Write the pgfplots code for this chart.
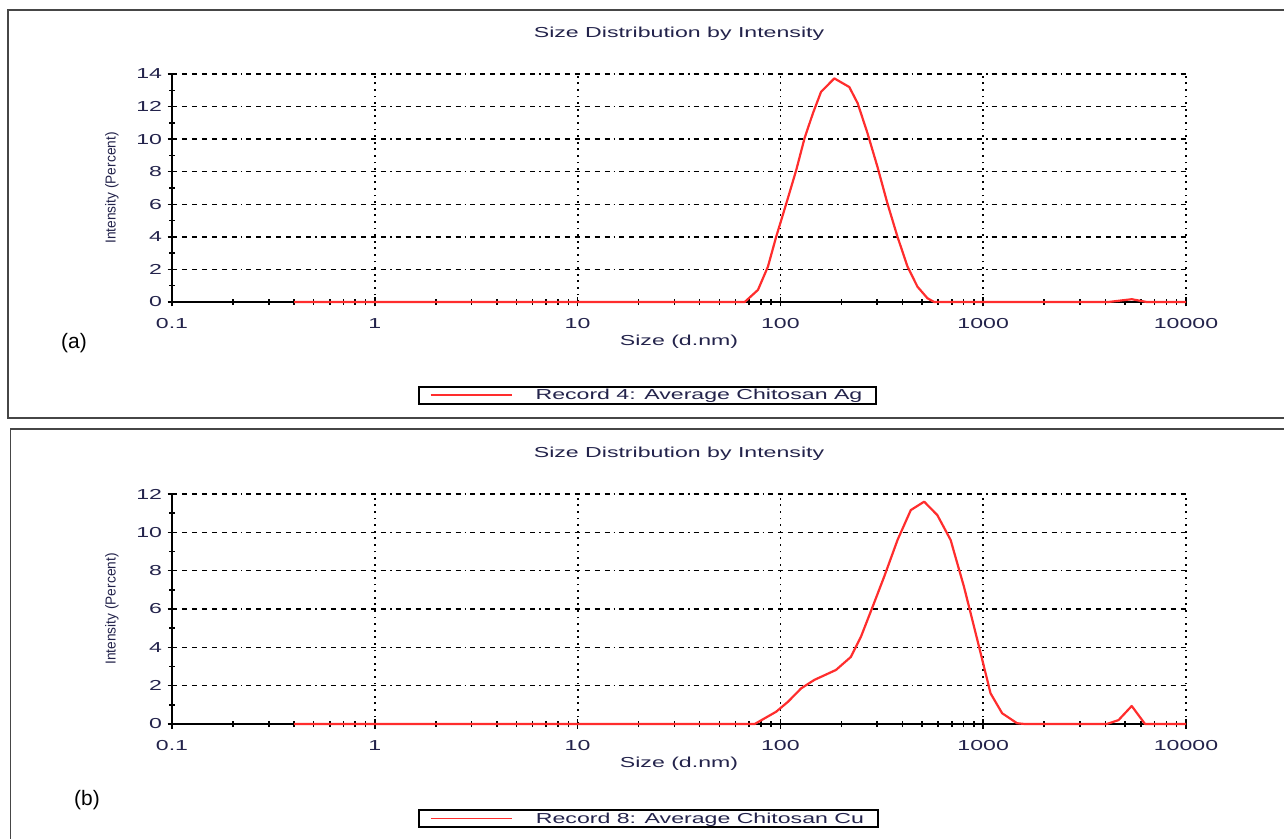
\documentclass[border=0pt]{standalone}
\usepackage{pgfplots}
\pgfplotsset{compat=1.18}
\usepackage{fontspec}
\setmainfont{Liberation Sans}
\usepackage{graphicx}
\definecolor{txt}{RGB}{35,35,75}
\definecolor{curve}{RGB}{255,45,45}
\definecolor{framec}{RGB}{70,70,70}
\newcommand{\sx}[1]{\scalebox{1.6}[1]{#1}}
\newcommand{\chfont}{\fontsize{14.5}{17}\selectfont}

\pgfplotstableread{
x y
0.4 0
50 0
66.7 0
77.5 0.74
86.8 2.17
95.3 4.0
107 6.06
119.7 8.1
131.5 10.05
144.6 11.58
158.6 12.9
184.5 13.73
218.6 13.2
240.5 12.2
269 10.35
301 8.3
337 6.06
378 4.0
423.6 2.17
474 0.94
531 0.23
573 0
4150 0
5400 0.17
6400 0
10000 0
}\agdata

\pgfplotstableread{
x y
0.4 0
74.7 0
95.3 0.64
109 1.16
126.6 1.86
147 2.3
188 2.82
222.6 3.5
249.5 4.55
285 6.12
325 7.69
378 9.6
439.5 11.16
511.5 11.6
594 10.9
691 9.6
804 7.16
935 4.4
1047 2.3
1087 1.6
1240 0.56
1469 0.04
1600 0
4065 0
4645 0.2
5400 0.94
6280 0
10000 0
}\cudata

\pgfplotsset{dls/.style={
  scale only axis, width=1014bp,
  xmin=0.1, xmax=10000, ymin=0,
  clip=false,
  axis lines=left,
  axis line style={-, line width=2bp, black},
  xtick={0.1,1,10,100,1000,10000},
  xticklabels={\sx{0.1},\sx{1},\sx{10},\sx{100},\sx{1000},\sx{10000}},
  minor xtick={0.2,0.3,0.4,0.5,0.6,0.7,0.8,0.9,2,3,4,5,6,7,8,9,20,30,40,50,60,70,80,90,200,300,400,500,600,700,800,900,2000,3000,4000,5000,6000,7000,8000,9000},
  tick align=center,
  major tick length=9bp, minor tick length=6bp,
  tick style={black, line width=1.5bp},
  grid=major,
  major x grid style={black, line width=1.8bp, dash pattern=on 1.8bp off 4.8bp},
  major y grid style={black, line width=1.3bp, dash pattern=on 5bp off 5bp on 5bp off 5bp on 5bp off 5bp on 5bp off 5bp on 5bp off 5bp on 5bp off 5bp on 5bp off 4bp on 1.5bp off 4bp},
  ticklabel style={font=\chfont, text=txt},
  xticklabel style={anchor=base, yshift=-22bp},
  yticklabel style={xshift=-2bp},
  title style={font=\chfont, text=txt, at={(axis description cs:0.5,1)}, anchor=base, yshift=31bp},
  xlabel style={font=\chfont, text=txt, at={(axis description cs:0.5,0)}, anchor=center, yshift=-40bp},
  ylabel style={font=\chfont, text=txt, at={(axis description cs:-0.0592,0.5)}, anchor=center},
  title={\sx{Size Distribution by Intensity}},
  xlabel={\sx{Size (d.nm)}},
  ylabel={\scalebox{0.95}[1]{Intensity (Percent)}},
  legend style={font=\chfont, text=txt, draw=black, line width=2bp, anchor=center,
    inner xsep=11bp, inner ysep=0.5bp, nodes={inner ysep=2bp, inner xsep=3bp}},
  legend cell align=left,
}}

\begin{document}
\begin{tikzpicture}
\useasboundingbox (0bp,0bp) rectangle (1284bp,839bp);
% panel frames
\draw[framec, line width=1.6bp] (1284bp,829bp) -- (8bp,829bp) -- (8bp,421bp) -- (1284bp,421bp);
\draw[framec, line width=1.6bp] (1284bp,410bp) -- (10.5bp,410bp) -- (10.5bp,0bp);

\begin{axis}[xmode=log, dls, at={(172bp,537bp)}, anchor=south west, height=228bp, ymax=14,
  ytick={0,2,...,14},
  yticklabels={\sx{0},\sx{2},\sx{4},\sx{6},\sx{8},\sx{10},\sx{12},\sx{14}},
  minor ytick={1,3,...,13},
  legend image code/.code={\draw[#1, line width=1.8bp] (0bp,0bp) -- (81bp,0bp);},
  legend style={at={(axis description cs:0.469,-0.408)}}]
\addplot[curve, line width=2.2bp, line join=round] table[x=x,y=y] {\agdata};
\addlegendentry{\hspace{20bp}\sx{Record 4: Average Chitosan Ag}}
\end{axis}

\begin{axis}[xmode=log, dls, at={(172bp,115bp)}, anchor=south west, height=230bp, ymax=12,
  ytick={0,2,...,12},
  yticklabels={\sx{0},\sx{2},\sx{4},\sx{6},\sx{8},\sx{10},\sx{12}},
  minor ytick={1,3,...,11},
  legend image code/.code={\draw[#1, line width=1.8bp] (0bp,0bp) -- (81bp,0bp);},
  legend style={at={(axis description cs:0.470,-0.411)}}]
\addplot[curve, line width=2.2bp, line join=round] table[x=x,y=y] {\cudata};
\addlegendentry{\hspace{20bp}\sx{Record 8: Average Chitosan Cu}}
\end{axis}

\node[font=\fontsize{21}{24}\selectfont] at (74bp,496bp) {(a)};
\node[font=\fontsize{21}{24}\selectfont] at (87bp,39bp) {(b)};
\end{tikzpicture}
\end{document}
